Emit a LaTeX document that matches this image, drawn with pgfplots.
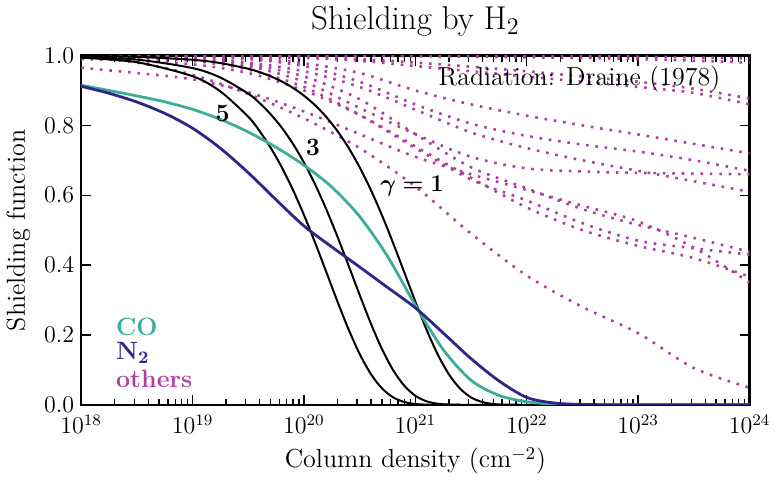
\documentclass[border=0pt]{standalone}
\usepackage{bm}
\usepackage{pgfplots}
\pgfplotsset{compat=1.18}

\definecolor{cocol}{RGB}{62,172,152}
\definecolor{ntwocol}{RGB}{48,38,135}
\definecolor{othcol}{RGB}{172,66,160}

\pgfplotsset{
  oth/.style={color=othcol, line width=1.3pt, dash pattern=on 1.3pt off 3.4pt, smooth},
  gam/.style={color=black, line width=1pt, smooth},
}

\begin{document}
\begin{tikzpicture}
\begin{axis}[
  scale only axis, width=334pt, height=174.5pt,
  xmin=18, xmax=24, ymin=0, ymax=1,
  xtick={18,19,20,21,22,23,24},
  xticklabels={$10^{18}$,$10^{19}$,$10^{20}$,$10^{21}$,$10^{22}$,$10^{23}$,$10^{24}$},
  minor xtick={18.30103,18.47712,18.60206,18.69897,18.77815,18.84510,18.90309,18.95424,19.30103,19.47712,19.60206,19.69897,19.77815,19.84510,19.90309,19.95424,20.30103,20.47712,20.60206,20.69897,20.77815,20.84510,20.90309,20.95424,21.30103,21.47712,21.60206,21.69897,21.77815,21.84510,21.90309,21.95424,22.30103,22.47712,22.60206,22.69897,22.77815,22.84510,22.90309,22.95424,23.30103,23.47712,23.60206,23.69897,23.77815,23.84510,23.90309,23.95424},
  ytick={0,0.2,0.4,0.6,0.8,1},
  yticklabels={$0.0$,$0.2$,$0.4$,$0.6$,$0.8$,$1.0$},
  tick align=inside,
  major tick length=5pt, minor tick length=3pt,
  axis line style={line width=1.2pt},
  tick style={black, line width=0.7pt},
  tick label style={font=\fontsize{12}{14}\selectfont},
  xticklabel style={yshift=-1.5pt},
  xlabel={Column density (cm$^{-2}$)},
  ylabel={Shielding function},
  label style={font=\fontsize{13}{15}\selectfont},
  title={Shielding by H$_2$},
  title style={font=\fontsize{16.5}{19}\selectfont},
]

% shielding functions of the other species
\addplot[oth] coordinates {(18,0.995) (18.5,0.98) (19,0.945) (19.5,0.89) (20,0.82) (20.5,0.735) (21,0.625) (21.5,0.49) (22,0.37) (22.5,0.28) (23,0.205) (23.5,0.105) (24,0.049)};
\addplot[oth] coordinates {(18,0.965) (18.5,0.95) (19,0.932) (19.5,0.895) (20,0.84) (20.5,0.775) (21,0.71) (21.5,0.66) (22,0.615) (22.5,0.57) (23,0.525) (23.5,0.45) (24,0.35)};
\addplot[oth] coordinates {(18,0.99) (18.5,0.985) (19,0.975) (19.5,0.95) (20,0.9) (20.5,0.83) (21,0.74) (21.5,0.65) (22,0.565) (22.5,0.5) (23,0.455) (23.5,0.42) (24,0.367)};
\addplot[oth] coordinates {(18,1) (18.5,0.997) (19,0.99) (19.5,0.975) (20,0.94) (20.5,0.875) (21,0.775) (21.5,0.68) (22,0.62) (22.5,0.56) (23,0.515) (23.5,0.478) (24,0.438)};
\addplot[oth] coordinates {(18,0.998) (18.5,0.993) (19,0.985) (19.5,0.96) (20,0.91) (20.5,0.83) (21,0.735) (21.5,0.645) (22,0.585) (22.5,0.52) (23,0.47) (23.5,0.448) (24,0.43)};
\addplot[oth] coordinates {(18,1) (18.5,0.998) (19,0.995) (19.5,0.98) (20,0.955) (20.5,0.91) (21,0.845) (21.5,0.78) (22,0.735) (22.5,0.70) (23,0.67) (23.5,0.64) (24,0.61)};
\addplot[oth] coordinates {(18,1) (18.5,0.997) (19,0.99) (19.5,0.97) (20,0.925) (20.5,0.85) (21,0.775) (21.5,0.71) (22,0.677) (22.5,0.668) (23,0.664) (23.5,0.662) (24,0.66)};
\addplot[oth] coordinates {(18,1) (18.5,0.999) (19,0.997) (19.5,0.99) (20,0.97) (20.5,0.925) (21,0.86) (21.5,0.805) (22,0.77) (22.5,0.745) (23,0.725) (23.5,0.70) (24,0.67)};
\addplot[oth] coordinates {(18,1) (18.5,0.999) (19,0.998) (19.5,0.993) (20,0.978) (20.5,0.95) (21,0.9) (21.5,0.86) (22,0.828) (22.5,0.8) (23,0.774) (23.5,0.747) (24,0.72)};
\addplot[oth] coordinates {(18,1) (19,0.999) (20,0.993) (20.5,0.985) (21,0.97) (21.5,0.955) (22,0.94) (22.5,0.925) (23,0.91) (23.5,0.893) (24,0.86)};
\addplot[oth] coordinates {(18,1) (19,1) (20,0.997) (20.5,0.99) (21,0.98) (21.5,0.968) (22,0.955) (22.5,0.94) (23,0.925) (23.5,0.905) (24,0.877)};
\addplot[oth] coordinates {(18,1) (20,1) (21,0.998) (22,0.995) (23,0.99) (24,0.98)};
\addplot[oth] coordinates {(18,1) (21,1) (22,0.999) (23,0.997) (24,0.992)};

% H2 self-shielding, gamma = 1
\addplot[gam] coordinates {(18,0.9988) (18.5,0.9962) (19,0.9879) (19.25,0.9785) (19.5,0.9622) (19.6,0.9526) (19.7,0.9407) (19.8,0.9259) (19.9,0.9077) (20.0,0.8852) (20.1,0.8577) (20.2,0.8243) (20.3,0.7840) (20.4,0.7361) (20.5,0.6800) (20.6,0.6154) (20.7,0.5427) (20.8,0.4633) (20.9,0.3796) (21.0,0.2954) (21.1,0.2154) (21.2,0.1447) (21.3,0.0877) (21.4,0.0467) (21.5,0.0211) (21.6,0.0078) (21.7,0.0022) (21.8,0.0005) (22.0,0.0)};
% gamma = 3
\addplot[gam] coordinates {(18,0.9963) (18.5,0.9885) (19,0.9641) (19.25,0.9370) (19.5,0.8909) (19.6,0.8645) (19.7,0.8323) (19.8,0.7938) (19.9,0.7478) (20.0,0.6937) (20.1,0.6310) (20.2,0.5600) (20.3,0.4819) (20.4,0.3990) (20.5,0.3145) (20.6,0.2331) (20.7,0.1598) (20.8,0.0994) (20.9,0.0547) (21.0,0.0258) (21.1,0.0100) (21.2,0.0030) (21.3,0.0007) (21.4,0.0001) (21.6,0.0)};
% gamma = 5
\addplot[gam] coordinates {(18,0.9939) (18.5,0.9809) (19,0.9408) (19.25,0.8972) (19.5,0.8246) (19.6,0.7845) (19.7,0.7366) (19.8,0.6806) (19.9,0.6161) (20.0,0.5435) (20.1,0.4641) (20.2,0.3805) (20.3,0.2962) (20.4,0.2162) (20.5,0.1454) (20.6,0.0883) (20.7,0.0471) (20.8,0.0213) (20.9,0.0079) (21.0,0.0022) (21.1,0.0005) (21.2,0.0001) (21.4,0.0)};

% CO
\addplot[color=cocol, line width=1.4pt, smooth] coordinates {(18.0,0.915) (18.25,0.900) (18.5,0.8845) (18.75,0.8675) (19.0,0.846) (19.25,0.8173) (19.5,0.781) (19.75,0.7373) (20.0,0.686) (20.25,0.6235) (20.5,0.539) (20.75,0.425) (21.0,0.285) (21.25,0.158) (21.5,0.070) (21.75,0.027) (22.0,0.0085) (22.25,0.002) (22.5,0.0003) (22.75,0.0) (24,0.0)};
% N2
\addplot[color=ntwocol, line width=1.4pt, smooth] coordinates {(18.0,0.912) (18.25,0.892) (18.5,0.867) (18.75,0.8345) (19.0,0.792) (19.25,0.7345) (19.5,0.6645) (19.75,0.587) (20.0,0.512) (20.25,0.452) (20.5,0.3945) (20.75,0.336) (21.0,0.2775) (21.25,0.2055) (21.5,0.132) (21.75,0.0685) (22.0,0.021) (22.25,0.005) (22.5,0.001) (22.75,0.0002) (23.0,0.0) (24,0.0)};

\node[font=\fontsize{12.5}{14}\selectfont\bfseries] at (axis cs:19.27,0.834) {5};
\node[font=\fontsize{12.5}{14}\selectfont\bfseries] at (axis cs:20.08,0.736) {3};
\node[font=\fontsize{12.5}{14}\selectfont] at (axis cs:20.97,0.625) {$\bm{\gamma=1}$};
\node[font=\fontsize{13}{15}\selectfont, anchor=east] at (axis cs:23.80,0.934) {Radiation: Draine (1978)};
\node[font=\fontsize{12.5}{14}\selectfont\bfseries, text=cocol, anchor=west] at (axis cs:18.25,0.224) {CO};
\node[font=\fontsize{12.5}{14}\selectfont\bfseries, text=ntwocol, anchor=west] at (axis cs:18.25,0.148) {N\textsubscript{2}};
\node[font=\fontsize{12.5}{14}\selectfont\bfseries, text=othcol, anchor=west] at (axis cs:18.25,0.075) {others};
\end{axis}
\end{tikzpicture}
\end{document}
